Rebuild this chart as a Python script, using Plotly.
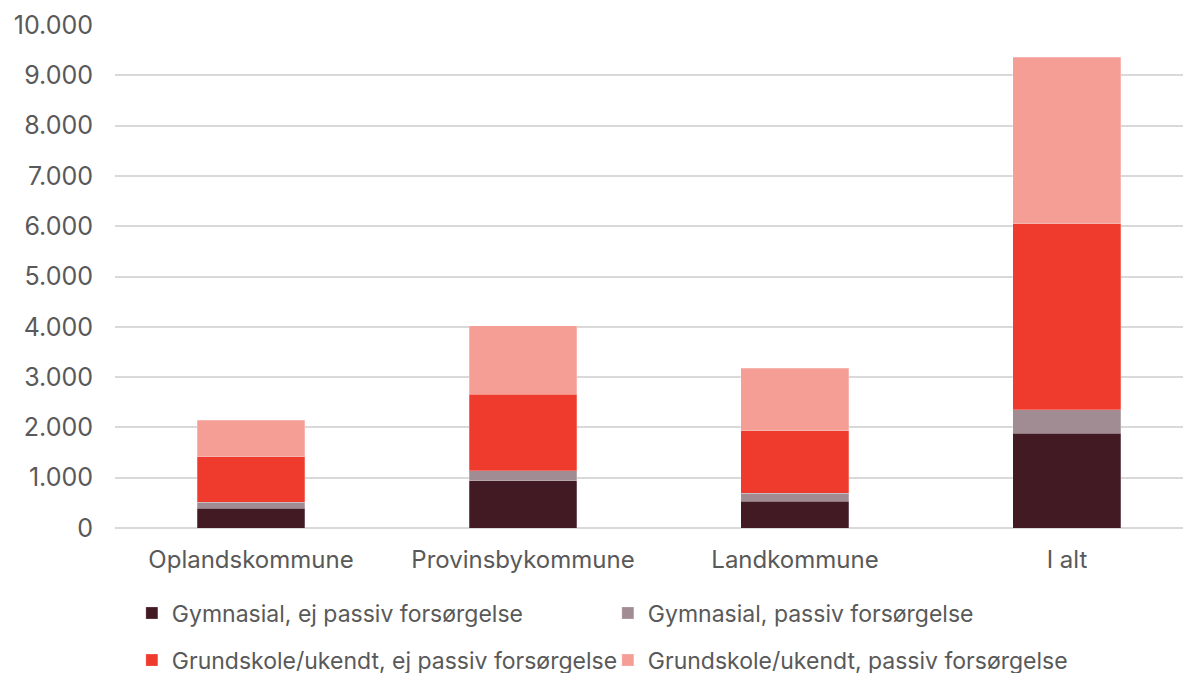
import plotly.graph_objects as go

categories = ["Oplandskommune", "Provinsbykommune", "Landkommune", "I alt"]
gym_ej = [394, 940, 534, 1888]
gym_passiv = [120, 194, 160, 466]
grund_ej = [900, 1529, 1238, 3693]
grund_passiv = [731, 1361, 1249, 3316]

names = [
    "Gymnasial, ej passiv forsørgelse",
    "Gymnasial, passiv forsørgelse",
    "Grundskole/ukendt, ej passiv forsørgelse",
    "Grundskole/ukendt, passiv forsørgelse",
]
colors = ["#421A24", "#A08C92", "#EE3B2D", "#F59E96"]
series = [gym_ej, gym_passiv, grund_ej, grund_passiv]
legends = ["legend", "legend", "legend2", "legend2"]

FONT = "Inter"
TXT = "#595959"

fig = go.Figure()
for name, vals, col, lg in zip(names, series, colors, legends):
    fig.add_trace(go.Bar(
        x=categories, y=vals, name=name,
        marker=dict(color=col, line=dict(width=0.8, color="rgba(255,255,255,0.3)")),
        legend=lg,
    ))

legend_common = dict(
    orientation="h", xref="container", yref="container",
    xanchor="left", yanchor="middle",
    entrywidth=431, entrywidthmode="pixels",
    font=dict(family=FONT, size=23, color=TXT),
    bgcolor="rgba(0,0,0,0)", traceorder="normal",
)

fig.update_layout(
    width=1191, height=673,
    margin=dict(l=107, r=8, t=17, b=153, autoexpand=False),
    barmode="stack", bargap=0.603,
    plot_bgcolor="white", paper_bgcolor="white",
    separators=",.",
    font=dict(family=FONT, size=23, color=TXT),
    legend=dict(x=0.104, y=0.101, **legend_common),
    legend2=dict(x=0.104, y=0.031, **legend_common),
    xaxis=dict(
        type="category", range=[-0.5, 3.456],
        showgrid=False, showline=False, zeroline=False,
        tickfont=dict(family=FONT, size=24, color=TXT),
        ticklabelstandoff=15,
    ),
    yaxis=dict(
        range=[0, 10000], dtick=1000, tickformat=",.0f",
        showgrid=True, gridcolor="#d9d9d9", gridwidth=1.5,
        zeroline=True, zerolinecolor="#d9d9d9", zerolinewidth=1.5,
        showline=False,
        tickfont=dict(family=FONT, size=25, color=TXT),
        ticklabelstandoff=21,
    ),
)

fig.write_html("out.html")
